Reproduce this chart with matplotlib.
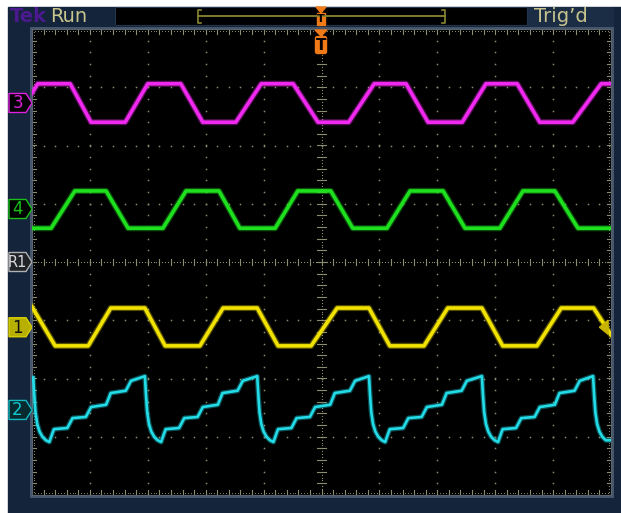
import numpy as np
import matplotlib
matplotlib.use("Agg")
import matplotlib.pyplot as plt
from matplotlib.patches import Rectangle, Polygon, FancyBboxPatch

# trace vertices, time in divisions (0..10), level in divisions (-4..4)
ch3_t = [0, 0.10, 0.66, 1.02, 1.61, 2.00, 2.57, 2.95, 3.52, 3.96, 4.51, 4.94,
         5.47, 5.91, 6.46, 6.84, 7.43, 7.84, 8.38, 8.77, 9.34, 9.83, 10.0]
ch3_v = [2.90, 3.06, 3.06, 2.40, 2.40, 3.06, 3.06, 2.40, 2.40, 3.06, 3.06, 2.40,
         2.40, 3.06, 3.06, 2.40, 2.40, 3.06, 3.06, 2.40, 2.40, 3.06, 3.06]

ch4_t = [0, 0.33, 0.74, 1.28, 1.66, 2.26, 2.66, 3.23, 3.59, 4.20, 4.59, 5.16,
         5.54, 6.13, 6.53, 7.10, 7.48, 8.08, 8.48, 9.03, 9.43, 10.0]
ch4_v = [0.58, 0.58, 1.22, 1.22, 0.58, 0.58, 1.22, 1.22, 0.58, 0.58, 1.22, 1.22,
         0.58, 0.58, 1.22, 1.22, 0.58, 0.58, 1.22, 1.22, 0.58, 0.58]

ch1_t = [0, 0.40, 0.97, 1.36, 1.95, 2.30, 2.90, 3.30, 3.89, 4.25, 4.82, 5.27,
         5.82, 6.18, 6.77, 7.18, 7.77, 8.13, 8.72, 9.14, 9.70, 10.0]
ch1_v = [-0.77, -1.44, -1.44, -0.79, -0.79, -1.44, -1.44, -0.79, -0.79, -1.44, -1.44, -0.79,
         -0.79, -1.44, -1.44, -0.79, -0.79, -1.44, -1.44, -0.79, -0.79, -1.25]

ch2_t = [0.00,
         0.02, 0.04, 0.06, 0.09, 0.13, 0.18, 0.24, 0.30, 0.36, 0.38, 0.61, 0.70, 0.93, 1.02, 1.28, 1.36, 1.62, 1.71,
         1.95, 1.97, 1.99, 2.02, 2.06, 2.11, 2.17, 2.23, 2.29, 2.31, 2.54, 2.63, 2.86, 2.95, 3.21, 3.29, 3.55, 3.64,
         3.89, 3.91, 3.93, 3.96, 4.00, 4.05, 4.11, 4.17, 4.23, 4.25, 4.48, 4.57, 4.80, 4.89, 5.15, 5.23, 5.49, 5.58,
         5.82, 5.84, 5.86, 5.89, 5.93, 5.98, 6.04, 6.10, 6.16, 6.18, 6.41, 6.50, 6.73, 6.82, 7.08, 7.16, 7.42, 7.51,
         7.77, 7.79, 7.81, 7.84, 7.88, 7.93, 7.99, 8.05, 8.11, 8.13, 8.36, 8.45, 8.68, 8.77, 9.03, 9.11, 9.37, 9.46,
         9.69, 9.71, 9.73, 9.76, 9.80, 9.85, 9.91, 10.0]
ch2_v = [-2.03,
         -1.98, -2.30, -2.58, -2.78, -2.91, -3.00, -3.06, -3.09, -2.92, -2.87, -2.85, -2.68, -2.66, -2.49, -2.45, -2.25, -2.21, -2.04,
         -1.96, -2.30, -2.58, -2.78, -2.91, -3.00, -3.06, -3.09, -2.92, -2.87, -2.85, -2.68, -2.66, -2.49, -2.45, -2.25, -2.21, -2.04,
         -1.96, -2.30, -2.58, -2.78, -2.91, -3.00, -3.06, -3.09, -2.92, -2.87, -2.85, -2.68, -2.66, -2.49, -2.45, -2.25, -2.21, -2.04,
         -1.96, -2.30, -2.58, -2.78, -2.91, -3.00, -3.06, -3.09, -2.92, -2.87, -2.85, -2.68, -2.66, -2.49, -2.45, -2.25, -2.21, -2.04,
         -1.96, -2.30, -2.58, -2.78, -2.91, -3.00, -3.06, -3.09, -2.92, -2.87, -2.85, -2.68, -2.66, -2.49, -2.45, -2.25, -2.21, -2.04,
         -1.96, -2.30, -2.58, -2.78, -2.91, -3.00, -3.06, -3.06]

marker_labels = ['3', '4', 'R1', '1', '2']
marker_levels = [2.73, 0.91, 0.0, -1.12, -2.54]

NAVY = '#14243a'
KHAKI = '#c8c48e'
ORANGE = '#f07a18'
GRIDC = '#8c8c70'

W, H = 621, 513
fig = plt.figure(figsize=(W / 100, H / 100), dpi=100)
fig.patch.set_facecolor('white')

# background / chrome in pixel coords
bg = fig.add_axes([0, 0, 1, 1])
bg.set_xlim(0, W)
bg.set_ylim(H, 0)
bg.axis('off')
bg.add_patch(Rectangle((8, 7), W - 8, H - 7, color=NAVY))
bg.add_patch(Rectangle((115, 7), 412, 18, facecolor='black', edgecolor='#24344a', lw=0.8))
bg.add_patch(Rectangle((528, 7), 86, 20, facecolor='#1b2d44'))
bg.text(10, 16.5, 'Tek', color='#4a1a8e', fontsize=14, fontweight='bold',
        va='center', ha='left', family='DejaVu Sans')
bg.text(50, 16.5, 'Run', color=KHAKI, fontsize=14, va='center', ha='left')
bg.text(534, 17, "Trig\u2019d", color=KHAKI, fontsize=14, va='center', ha='left')

# timeline bracket in header
olive = '#8a8632'
bg.plot([198, 445], [16, 16], color=olive, lw=1.3)
bg.plot([201, 198, 198, 201], [10, 10, 23, 23], color=olive, lw=1.2)
bg.plot([442, 445, 445, 442], [10, 10, 23, 23], color=olive, lw=1.2)
bg.add_patch(Polygon([[316, 7], [326, 7], [321, 13]], color=ORANGE))
bg.add_patch(Rectangle((317, 13), 8, 12, color=ORANGE))
bg.text(321, 19.5, 'T', color='black', fontsize=8, fontweight='bold', ha='center', va='center')

# frame around graticule
bg.add_patch(Rectangle((30, 27), 584, 471, facecolor='#46566a'))

# channel markers on the left
y0, dy = 262, 58.25
mk_style = {
    '3': ('black', '#e020e0', '#e020e0'),
    '4': ('black', '#18c018', '#18c018'),
    'R1': ('#202428', '#b0b0b0', '#d8d8d8'),
    '1': ('#b8b000', '#d8d000', '#101010'),
    '2': ('#062a2e', '#10b8c0', '#10c8d0'),
}
for lab, lev in zip(marker_labels, marker_levels):
    yc = y0 - lev * dy
    fc, ec, tc = mk_style[lab]
    bg.add_patch(Polygon([[9, yc - 9.5], [26, yc - 9.5], [32, yc], [26, yc + 9.5], [9, yc + 9.5]],
                         facecolor=fc, edgecolor=ec, lw=1.0, zorder=5))
    bg.text(17.5, yc + 0.5, lab, color=tc, fontsize=12 if lab != 'R1' else 10.5,
            ha='center', va='center', zorder=6)

# graticule axes
ax = fig.add_axes([32 / W, (H - 495) / H, 579 / W, 466 / H])
ax.set_facecolor('black')
ax.set_xlim(0, 10)
ax.set_ylim(-4, 4)
ax.set_xticks([])
ax.set_yticks([])
for s in ax.spines.values():
    s.set_color('#5a6470')
    s.set_linewidth(0.8)

fine = np.arange(0, 10.001, 0.2)
fine_y = np.arange(-4, 4.001, 0.2)
for gx in range(1, 10):
    if gx == 5:
        continue
    ax.plot(np.full_like(fine_y, gx), fine_y, ls='none', marker='s', ms=1.1,
            mec='none', mfc=GRIDC, zorder=1)
for gy in range(-3, 4):
    if gy == 0:
        continue
    ax.plot(fine, np.full_like(fine, gy), ls='none', marker='s', ms=1.1,
            mec='none', mfc=GRIDC, zorder=1)

# center crosshair and edges with minor ticks
cross = np.arange(0, 10.001, 0.05)
cross_y = np.arange(-4, 4.001, 0.05)
ax.plot(cross, np.zeros_like(cross), ls='none', marker='s', ms=0.8, mec='none', mfc=GRIDC)
ax.plot(np.full_like(cross_y, 5), cross_y, ls='none', marker='s', ms=0.8, mec='none', mfc=GRIDC)
tk = dict(color=GRIDC, lw=0.8, zorder=1)
for xv in fine:
    ax.plot([xv, xv], [-0.06, 0.06], **tk)
    ax.plot([xv, xv], [4, 3.92], **tk)
    ax.plot([xv, xv], [-4, -3.92], **tk)
for yv in fine_y:
    ax.plot([4.93, 5.07], [yv, yv], **tk)
    ax.plot([0, 0.07], [yv, yv], **tk)
    ax.plot([10, 9.93], [yv, yv], **tk)
ax.plot(cross, np.full_like(cross, 3.97), ls='none', marker='s', ms=0.7, mec='none', mfc=GRIDC)
ax.plot(cross, np.full_like(cross, -3.97), ls='none', marker='s', ms=0.7, mec='none', mfc=GRIDC)
ax.plot(np.full_like(cross_y, 0.03), cross_y, ls='none', marker='s', ms=0.7, mec='none', mfc=GRIDC)
ax.plot(np.full_like(cross_y, 9.97), cross_y, ls='none', marker='s', ms=0.7, mec='none', mfc=GRIDC)

# traces
traces = [
    (ch3_t, ch3_v, '#f028f0', 2.6),
    (ch4_t, ch4_v, '#1ee01e', 2.6),
    (ch1_t, ch1_v, '#f2e200', 2.6),
    (ch2_t, ch2_v, '#22dce8', 1.9),
]
for t, v, c, lw in traces:
    ax.plot(t, v, color=c, lw=lw + 1.8, alpha=0.35, solid_joinstyle='round', zorder=3)
    ax.plot(t, v, color=c, lw=lw, solid_joinstyle='round', zorder=4)

# trigger level marker on the right (channel 1)
ax.add_patch(Polygon([[9.80, -1.12], [9.95, -1.0], [9.95, -1.24]], closed=True,
                     color='#c8b400', zorder=5, clip_on=False))

# overlay for trigger position marker
ov = fig.add_axes([0, 0, 1, 1])
ov.set_xlim(0, W)
ov.set_ylim(H, 0)
ov.axis('off')
ov.patch.set_alpha(0)
ov.add_patch(Polygon([[315, 30], [327, 30], [321, 36]], color=ORANGE))
ov.add_patch(FancyBboxPatch((316, 37), 10, 16, boxstyle='round,pad=0.5,rounding_size=2',
                            color=ORANGE))
ov.text(321, 45.5, 'T', color='black', fontsize=11, fontweight='bold', ha='center', va='center')

fig.savefig('out.png', dpi=100, facecolor='white')
